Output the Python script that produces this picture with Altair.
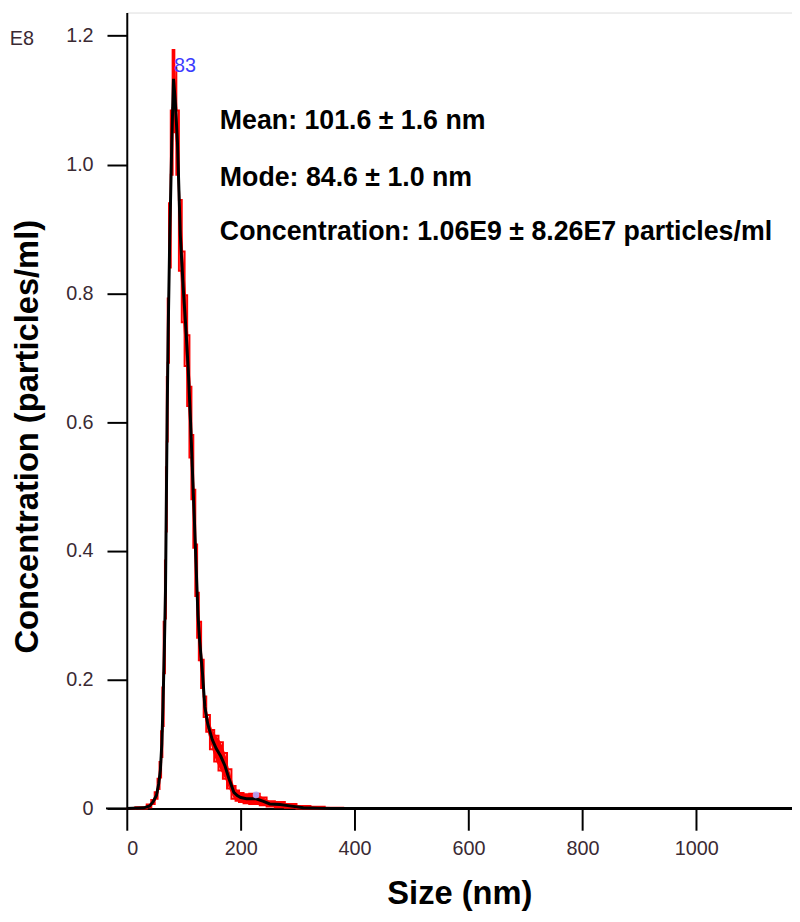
import altair as alt
import pandas as pd

# ---- data (concentration in units of 1E8 particles/ml) ----
sizes = [0, 30, 40, 46, 52, 56, 59, 61.5, 63.5, 66,
         68, 69.5, 71, 72.7, 75.5, 79, 82, 85, 89, 94,
         99, 104, 108, 112, 115, 118.6, 122, 125, 128, 133,
         137, 142, 150, 157, 165, 172.5, 179.5, 188, 194, 200,
         210, 220, 227, 240, 251, 269, 286, 310, 335, 360,
         400, 600, 800, 1000, 1168]
conc = [0, 0.001, 0.004, 0.01, 0.02, 0.038, 0.06, 0.1, 0.158, 0.25,
        0.34, 0.48, 0.62, 0.742, 0.89, 1.034, 1.133, 1.10, 1.034, 0.89,
        0.81, 0.742, 0.68, 0.6, 0.53, 0.45, 0.37, 0.30, 0.26, 0.209,
        0.158, 0.132, 0.107, 0.093, 0.081, 0.066, 0.046, 0.025, 0.02, 0.017,
        0.015, 0.015, 0.015, 0.011, 0.007, 0.006, 0.004, 0.001, 0.0005, 0,
        0, 0, 0, 0, 0]
err = [0, 0.001, 0.002, 0.003, 0.005, 0.008, 0.012, 0.02, 0.03, 0.04,
       0.045, 0.05, 0.05, 0.05, 0.05, 0.05, 0.045, 0.05, 0.05, 0.055,
       0.055, 0.055, 0.055, 0.055, 0.05, 0.045, 0.04, 0.035, 0.03, 0.022,
       0.016, 0.013, 0.015, 0.02, 0.022, 0.02, 0.015, 0.01, 0.008, 0.007,
       0.007, 0.008, 0.008, 0.006, 0.004, 0.004, 0.003, 0.003, 0.002, 0.001,
       0, 0, 0, 0, 0]

x_ticks = [0, 200, 400, 600, 800, 1000]
y_ticks = [0, 0.2, 0.4, 0.6, 0.8, 1.0, 1.2]

peak_size = [83]
peak_conc = [1.153]
peak_label = ["83"]

minor_peak_size = [227]
minor_peak_conc = [0.021]

stats_lines = [
    "Mean: 101.6 \u00b1 1.6 nm",
    "Mode: 84.6 \u00b1 1.0 nm",
    "Concentration: 1.06E9 \u00b1 8.26E7 particles/ml",
]

df = pd.DataFrame({"size": sizes, "conc": conc, "err": err})
df["lo"] = (df["conc"] - df["err"]).clip(lower=0)
df["hi"] = df["conc"] + df["err"]

peak_df = pd.DataFrame({"size": peak_size, "conc": peak_conc, "label": peak_label})
minor_df = pd.DataFrame({"size": minor_peak_size, "conc": minor_peak_conc})

W, H = 672, 804
label_color = "#3a2a33"
red = "#ff0000"

xscale = alt.Scale(domain=[0, 1168], nice=False, zero=False)
yscale = alt.Scale(domain=[0, 1.236], nice=False)

x_axis = alt.Axis(
    values=x_ticks, title="Size (nm)", grid=False, format="d",
    domainColor="black", domainWidth=2, tickColor="black", tickWidth=2, tickSize=22,
    labelFont="Liberation Sans", labelFontSize=20, labelColor=label_color, labelPadding=9,
    titleFont="Liberation Sans", titleFontSize=33, titleFontWeight="bold", titleColor="black",
    titleY=86, titleBaseline="middle",
)
y_axis = alt.Axis(
    values=y_ticks, title="Concentration (particles/ml)", grid=False,
    labelExpr="datum.value == 0 ? '0' : format(datum.value, '.1f')",
    domainColor="black", domainWidth=2, tickColor="black", tickWidth=2, tickSize=20,
    labelFont="Liberation Sans", labelFontSize=20, labelColor=label_color, labelPadding=14,
    titleFont="Liberation Sans", titleFontSize=33, titleFontWeight="bold", titleColor="black",
    titleX=-100, titleY=428, titleAngle=-90, titleAlign="center", titleBaseline="middle",
)

base = alt.Chart(df)

band = base.mark_area(color=red, opacity=1).encode(
    x=alt.X("size:Q", scale=xscale, axis=x_axis),
    y=alt.Y("lo:Q", scale=yscale, axis=y_axis),
    y2="hi:Q",
)

hi_edge = base.mark_line(color=red, strokeWidth=2, interpolate="step").encode(
    x=alt.X("size:Q", scale=xscale),
    y=alt.Y("hi:Q", scale=yscale),
)
lo_edge = base.mark_line(color=red, strokeWidth=2, interpolate="step").encode(
    x=alt.X("size:Q", scale=xscale),
    y=alt.Y("lo:Q", scale=yscale),
)

line = base.mark_line(color="black", strokeWidth=3).encode(
    x=alt.X("size:Q", scale=xscale),
    y=alt.Y("conc:Q", scale=yscale),
)

minor = alt.Chart(minor_df).mark_point(
    filled=True, color="#b4a8ff", size=45, opacity=0.9
).encode(x=alt.X("size:Q", scale=xscale), y=alt.Y("conc:Q", scale=yscale))

peak_text = alt.Chart(peak_df).mark_text(
    align="left", baseline="middle", dx=0, font="Liberation Sans", fontSize=20, color="#3c3cff"
).encode(x=alt.X("size:Q", scale=xscale), y=alt.Y("conc:Q", scale=yscale), text="label:N")

axis_ext = alt.Chart(pd.DataFrame({"a": [0]})).mark_rule(color="black", strokeWidth=2).encode(
    x=alt.value(-21), x2=alt.value(0), y=alt.value(H)
)

e8 = alt.Chart(pd.DataFrame({"t": ["E8"]})).mark_text(
    align="center", baseline="middle", font="Liberation Sans", fontSize=20, color=label_color
).encode(x=alt.value(-106), y=alt.value(27), text="t:N")

stat_ys = [110, 167, 222]
stats = []
for txt, yy in zip(stats_lines, stat_ys):
    stats.append(
        alt.Chart(pd.DataFrame({"t": [txt]})).mark_text(
            align="left", baseline="middle", font="Liberation Sans", fontSize=27,
            fontWeight="bold", color="black"
        ).encode(x=alt.value(94), y=alt.value(yy), text="t:N")
    )

chart = alt.layer(band, hi_edge, lo_edge, line, minor, peak_text, axis_ext, e8, *stats).properties(
    width=W, height=H,
    autosize=alt.AutoSizeParams(type="none"),
    padding={"left": 120, "top": 0, "right": 0, "bottom": 100},
).configure_view(stroke=None).configure(background="white")

chart.save("out.html", embed_options={"renderer": "svg", "actions": False})
